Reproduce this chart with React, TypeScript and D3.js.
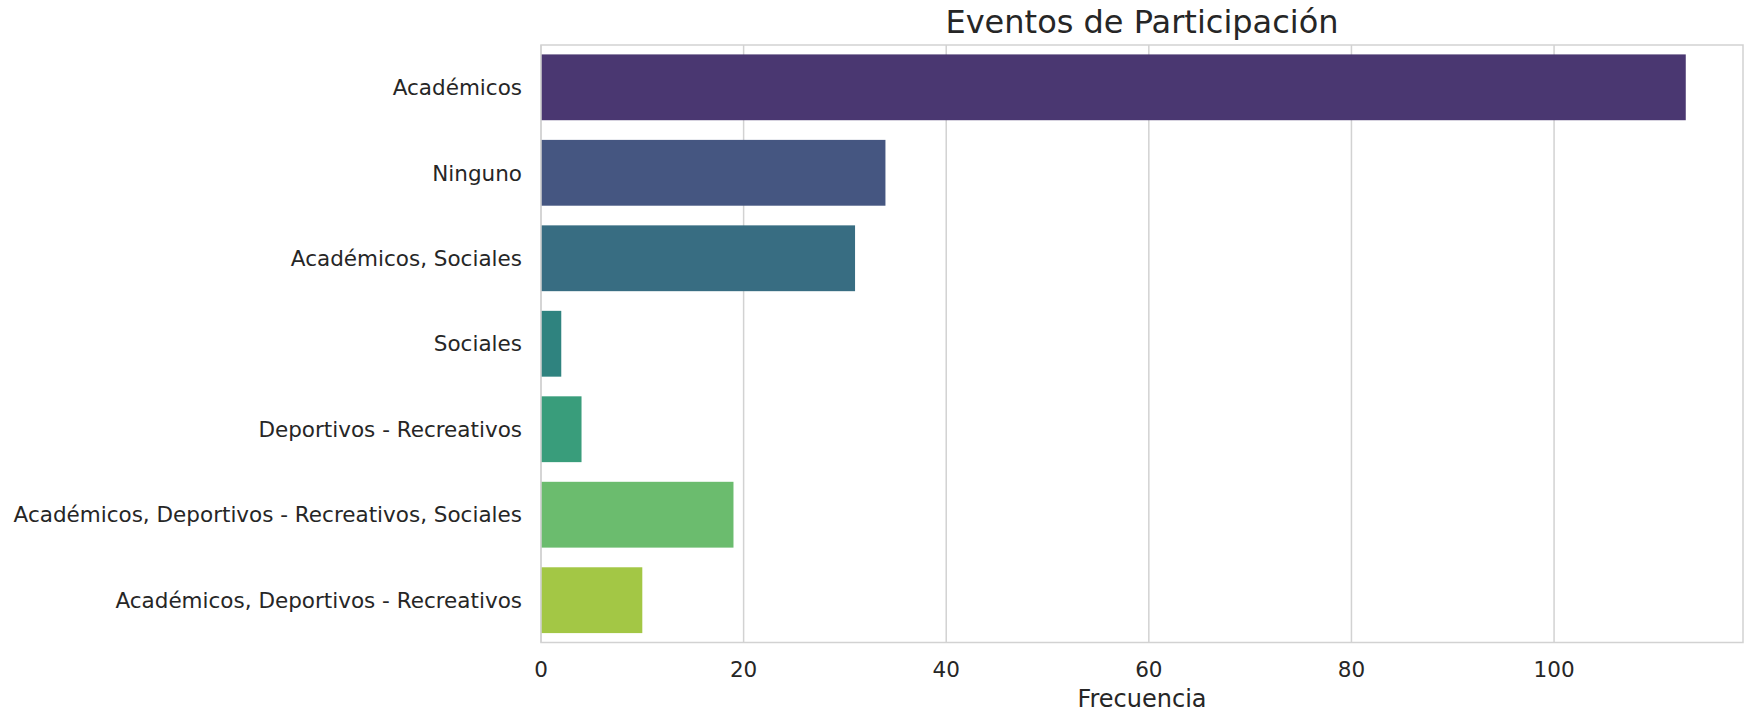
import * as d3 from "d3";

const categories = [
  "Académicos",
  "Ninguno",
  "Académicos, Sociales",
  "Sociales",
  "Deportivos - Recreativos",
  "Académicos, Deportivos - Recreativos, Sociales",
  "Académicos, Deportivos - Recreativos",
];
const counts = [113, 34, 31, 2, 4, 19, 10];
const palette = ["#472d7b", "#3b528b", "#2c728e", "#21918c", "#28ae80", "#5ec962", "#addc30"];

const W = 1750;
const H = 712;
const left = 541;
const right = 1743;
const top = 45;
const bottom = 642.5;
const ink = "#262626";
const gridColor = "#d2d2d2";
const font = "DejaVu Sans, sans-serif";

// seaborn barplot desaturates its palette to 0.75
function desat(c: string) {
  const h = d3.hsl(c);
  h.s *= 0.75;
  return h.formatHex();
}

export default function App() {
  const x = d3.scaleLinear().domain([0, d3.max(counts)! * 1.05]).range([left, right]);
  const y = d3
    .scaleBand<string>()
    .domain(categories)
    .range([top, bottom])
    .paddingInner(0.23)
    .paddingOuter(0.11);
  const ticks = x.ticks(6);

  return (
    <>
      <style>{`body{margin:0}`}</style>
      <svg width={W} height={H} style={{ display: "block", background: "#fff" }} fontFamily={font}>
        {ticks.map((t) => (
          <line key={"g" + t} x1={x(t)} x2={x(t)} y1={top} y2={bottom} stroke={gridColor} strokeWidth={1.5} />
        ))}
        {categories.map((c, i) => (
          <rect
            key={c}
            x={x(0)}
            y={y(c)}
            width={x(counts[i]) - x(0)}
            height={y.bandwidth()}
            fill={desat(palette[i])}
          />
        ))}
        <rect
          x={left}
          y={top}
          width={right - left}
          height={bottom - top}
          fill="none"
          stroke={gridColor}
          strokeWidth={1.5}
        />
        {categories.map((c) => (
          <text
            key={"l" + c}
            x={left - 19}
            y={y(c)! + y.bandwidth() / 2}
            dy="0.36em"
            textAnchor="end"
            fontSize={21.5}
            fill={ink}
          >
            {c}
          </text>
        ))}
        {ticks.map((t) => (
          <text key={"t" + t} x={x(t)} y={677} textAnchor="middle" fontSize={21.5} fill={ink}>
            {t}
          </text>
        ))}
        <text x={(left + right) / 2} y={707} textAnchor="middle" fontSize={24} fill={ink}>
          Frecuencia
        </text>
        <text x={(left + right) / 2} y={33} textAnchor="middle" fontSize={32} fill={ink}>
          Eventos de Participación
        </text>
      </svg>
    </>
  );
}
